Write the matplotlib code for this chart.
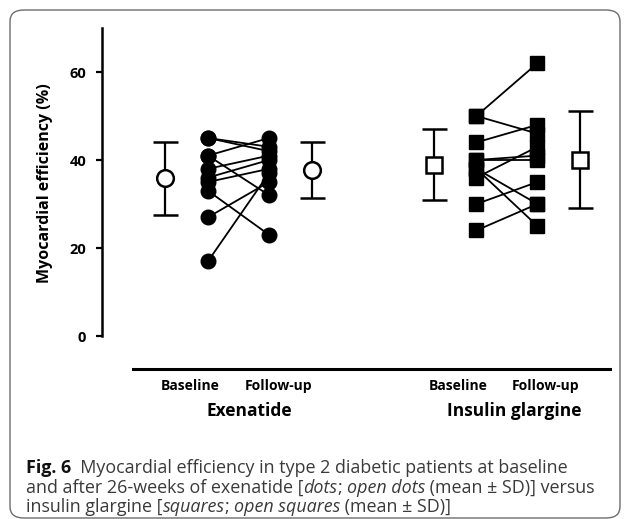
import matplotlib
matplotlib.use("Agg")
import matplotlib.pyplot as plt
from matplotlib.patches import FancyBboxPatch
import matplotlib.transforms as mtransforms

# ---------------- data ----------------
groups = ["Exenatide", "Insulin glargine"]
time_labels = ["Baseline", "Follow-up"]

exe_baseline = [45, 45, 41, 41, 38, 36, 35, 33, 27, 17]
exe_followup = [43, 42, 45, 32, 41, 40, 38, 23, 35, 37]
ins_baseline = [50, 50, 44, 40, 40, 38, 38, 36, 30, 24]
ins_followup = [62, 46, 48, 41, 40, 30, 25, 43, 35, 30]

exe_mean = [35.8, 37.7]
exe_sd = [8.4, 6.4]
ins_mean = [38.9, 40.1]
ins_sd = [8.1, 11.0]

y_ticks = [0, 20, 40, 60]

caption_lines = [
    [("Fig. 6", "bold", "normal"), ("  Myocardial efficiency in type 2 diabetic patients at baseline", "normal", "normal")],
    [("and after 26-weeks of exenatide [", "normal", "normal"), ("dots", "normal", "italic"), ("; ", "normal", "normal"),
     ("open dots", "normal", "italic"), (" (mean \u00b1 SD)] versus", "normal", "normal")],
    [("insulin glargine [", "normal", "normal"), ("squares", "normal", "italic"), ("; ", "normal", "normal"),
     ("open squares", "normal", "italic"), (" (mean \u00b1 SD)]", "normal", "normal")],
]

# ---------------- layout ----------------
W, H = 629, 519
fig = plt.figure(figsize=(W / 100, H / 100), dpi=100)
fig.patch.set_facecolor("white")

chart_font = "Open Sans"
cap_font = "Open Sans"

ax = fig.add_axes([102 / W, 1 - 369 / H, (610 - 102) / W, (369 - 28) / H])
ax.set_xlim(-0.738, 7.59)
ax.set_ylim(-7.5, 70)

# positions
exe_pos = [1.0, 2.0]
ins_pos = [5.4, 6.4]
mean_off = 0.7

lw_line = 1.3
for b, f in zip(exe_baseline, exe_followup):
    ax.plot(exe_pos, [b, f], color="black", lw=lw_line, zorder=2)
for b, f in zip(ins_baseline, ins_followup):
    ax.plot(ins_pos, [b, f], color="black", lw=lw_line, zorder=2)

ax.plot([exe_pos[0]] * len(exe_baseline), exe_baseline, "o", color="black", ms=10.5, zorder=3)
ax.plot([exe_pos[1]] * len(exe_followup), exe_followup, "o", color="black", ms=10.5, zorder=3)
ax.plot([ins_pos[0]] * len(ins_baseline), ins_baseline, "s", color="black", ms=10, zorder=3)
ax.plot([ins_pos[1]] * len(ins_followup), ins_followup, "s", color="black", ms=10, zorder=3)

exe_mean_x = [exe_pos[0] - mean_off, exe_pos[1] + mean_off]
ins_mean_x = [ins_pos[0] - mean_off, ins_pos[1] + mean_off]
for x, m, s in zip(exe_mean_x, exe_mean, exe_sd):
    ax.errorbar([x], [m], yerr=[s], fmt="o", ms=12, mfc="white", mec="black", mew=1.8,
                ecolor="black", elinewidth=1.6, capsize=9, capthick=1.7, zorder=4)
for x, m, s in zip(ins_mean_x, ins_mean, ins_sd):
    ax.errorbar([x], [m], yerr=[s], fmt="s", ms=11, mfc="white", mec="black", mew=1.8,
                ecolor="black", elinewidth=1.6, capsize=9, capthick=1.7, zorder=4)

# spines
for sp in ["top", "right"]:
    ax.spines[sp].set_visible(False)
ax.spines["left"].set_bounds(0, 70)
ax.spines["left"].set_linewidth(1.8)
ax.spines["bottom"].set_bounds(-0.23, 7.59)
ax.spines["bottom"].set_linewidth(2.2)

ax.set_yticks(y_ticks)
ax.set_yticklabels([str(t) for t in y_ticks], fontfamily=chart_font, fontweight="bold", fontsize=10.5)
ax.tick_params(axis="y", direction="out", length=4.5, width=1.6, pad=7)
ax.set_xticks([])

trans = mtransforms.blended_transform_factory(ax.transData, fig.transFigure)
time_label_x = [0.70, 2.16, 5.10, 6.54]
for x, lab in zip(time_label_x, time_labels * 2):
    ax.text(x, 1 - 386 / H, lab, transform=trans, ha="center", va="center",
            fontfamily=chart_font, fontweight="bold", fontsize=10, clip_on=False)
group_label_x = [1.67, 6.02]
for x, lab in zip(group_label_x, groups):
    ax.text(x, 1 - 411 / H, lab, transform=trans, ha="center", va="center",
            fontfamily=chart_font, fontweight="bold", fontsize=12.5, clip_on=False)

fig.text(45 / W, 1 - 183 / H, "Myocardial efficiency (%)", rotation=90, ha="center", va="center",
         fontfamily=chart_font, fontweight="bold", fontsize=11.5)

# border
border = FancyBboxPatch((10 / W, 1 / H), (620 - 10) / W, (509 - 1) / H,
                        boxstyle="round,pad=0,rounding_size=0.022",
                        transform=fig.transFigure, fill=False, edgecolor="#6d6d6d", lw=1.0)
fig.patches.append(border)

# caption
fig.canvas.draw()
renderer = fig.canvas.get_renderer()
line_y = [468, 488, 507]
for line, yy in zip(caption_lines, line_y):
    xpx = 26
    for txt, wt, st in line:
        col = "#111111" if wt == "bold" else "#3a3a3a"
        t = fig.text(xpx / W, 1 - yy / H, txt, ha="left", va="center", fontfamily=cap_font,
                     fontweight=wt, fontstyle=st, fontsize=12.9, color=col)
        bb = t.get_window_extent(renderer=renderer)
        xpx += bb.width

fig.savefig("out.png", dpi=100)
